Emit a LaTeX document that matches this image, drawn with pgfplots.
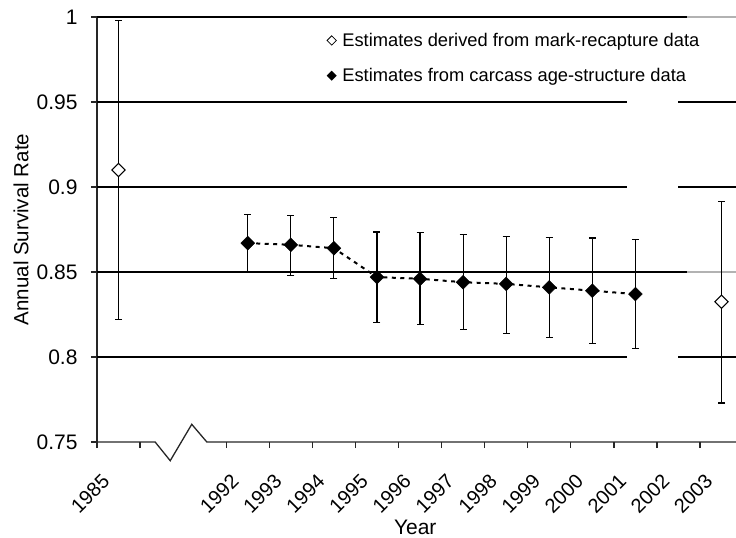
\documentclass[border=0pt]{standalone}
\usepackage{pgfplots}
\pgfplotsset{compat=1.18}
\usepackage{pgfplotstable}
\usepackage{fontspec}
\setmainfont{Liberation Sans}

% Survival estimates: x is the category slot (mid-year), y the estimate,
% ep / em the upper and lower error extents.
\pgfplotstableread{
x    y      ep     em
0.5  0.910  0.088  0.088
14.5 0.8325 0.059  0.0595
}\markrecap

\pgfplotstableread{
x    y      ep     em
3.5  0.867  0.017  0.017
4.5  0.866  0.017  0.018
5.5  0.864  0.018  0.018
6.5  0.847  0.0265 0.0265
7.5  0.846  0.027  0.027
8.5  0.844  0.028  0.028
9.5  0.843  0.028  0.029
10.5 0.841  0.0295 0.0295
11.5 0.839  0.031  0.031
12.5 0.837  0.032  0.032
}\carcass

\begin{document}
\begin{tikzpicture}
\begin{axis}[
  at={(0,0)}, anchor=south west,
  scale only axis, width=639bp, height=425bp,
  xmin=0, xmax=14.836, ymin=0.75, ymax=1,
  clip=false,
  axis x line*=bottom, axis y line*=left,
  x axis line style={draw=none},
  y axis line style={line width=1.4bp, black!85},
  tick align=outside, major tick length=6bp,
  every tick/.style={black!85, line width=1.3bp},
  xtick={0,1,3,4,5,6,7,8,9,10,11,12,13,14},
  xticklabels={1985,,1992,1993,1994,1995,1996,1997,1998,1999,2000,2001,2002,2003},
  xticklabel style={font=\fontsize{20bp}{23bp}\selectfont, inner sep=0pt,
    xshift=9bp, yshift=-30bp, rotate=45, anchor=east},
  ytick={0.75,0.8,0.85,0.9,0.95,1},
  yticklabels={0.75,0.8,0.85,0.9,0.95,1},
  yticklabel style={font=\fontsize{21bp}{23bp}\selectfont, xshift=-10bp},
  xlabel={Year}, ylabel={Annual Survival Rate},
  every axis x label/.style={at={(axis description cs:0.498,-0.2165)}, anchor=base,
    inner sep=0pt, font=\fontsize{21bp}{23bp}\selectfont},
  every axis y label/.style={at={(axis description cs:-0.119,0.5)}, anchor=center,
    rotate=90, font=\fontsize{20.5bp}{23bp}\selectfont},
  legend cell align=left,
  legend style={draw=none, fill=none, at={(axis description cs:0.355,0.972)},
    anchor=north west, font=\fontsize{18.3bp}{21bp}\selectfont,
    row sep=16.5bp, column sep=4bp},
]
% horizontal grid lines, with the blank stretch near 2002
\draw[line width=1.4bp, black] (axis cs:0,1) -- (axis cs:13.7,1);
\draw[line width=1.2bp, black!30] (axis cs:13.7,1) -- (axis cs:14.836,1);
\draw[line width=1.4bp, black] (axis cs:0,0.85) -- (axis cs:13.7,0.85);
\draw[line width=1.2bp, black!30] (axis cs:13.7,0.85) -- (axis cs:14.836,0.85);
\draw[line width=1.4bp, black] (axis cs:0,0.95) -- (axis cs:12.31,0.95);
\draw[line width=1.4bp, black] (axis cs:13.49,0.95) -- (axis cs:14.836,0.95);
\draw[line width=1.4bp, black] (axis cs:0,0.9) -- (axis cs:12.31,0.9);
\draw[line width=1.4bp, black] (axis cs:13.49,0.9) -- (axis cs:14.836,0.9);
\draw[line width=1.4bp, black] (axis cs:0,0.8) -- (axis cs:12.31,0.8);
\draw[line width=1.4bp, black] (axis cs:13.49,0.8) -- (axis cs:14.836,0.8);
% x axis line with the break between 1985 and 1992
\draw[line width=1.3bp, black!85] (axis cs:0,0.75) -- (axis cs:1.35,0.75)
  -- (axis cs:1.70,0.739) -- (axis cs:2.20,0.7604) -- (axis cs:2.55,0.75)
  -- (axis cs:14.836,0.75);

\addplot[forget plot, black, line width=2bp, dash pattern=on 4bp off 4.5bp,
  mark=square*, mark size=4.9bp,
  mark options={solid, rotate=45, fill=black, line width=0.4bp},
  error bars/.cd, y dir=both, y explicit, error mark=|,
  error bar style={solid, line width=1.2bp, black},
  error mark options={line width=1.2bp, mark size=3.5bp}]
  table[x=x, y=y, y error plus=ep, y error minus=em] {\carcass};

\addplot[forget plot, only marks, black,
  mark=square*, mark size=4.7bp,
  mark options={rotate=45, fill=white, line width=1bp},
  error bars/.cd, y dir=both, y explicit, error mark=|,
  error bar style={line width=1.2bp, black},
  error mark options={line width=1.2bp, mark size=3.5bp}]
  table[x=x, y=y, y error plus=ep, y error minus=em] {\markrecap};

\addlegendimage{only marks, black, mark=square*, mark size=3.3bp,
  mark options={rotate=45, fill=white, line width=0.8bp}}
\addlegendentry{Estimates derived from mark-recapture data}
\addlegendimage{only marks, black, mark=square*, mark size=3.3bp,
  mark options={rotate=45, fill=black, line width=0.4bp}}
\addlegendentry{Estimates from carcass age-structure data}
\end{axis}
\pgfresetboundingbox
\path[use as bounding box] (-97bp,-96bp) rectangle (639bp,442bp);
\end{tikzpicture}
\end{document}
